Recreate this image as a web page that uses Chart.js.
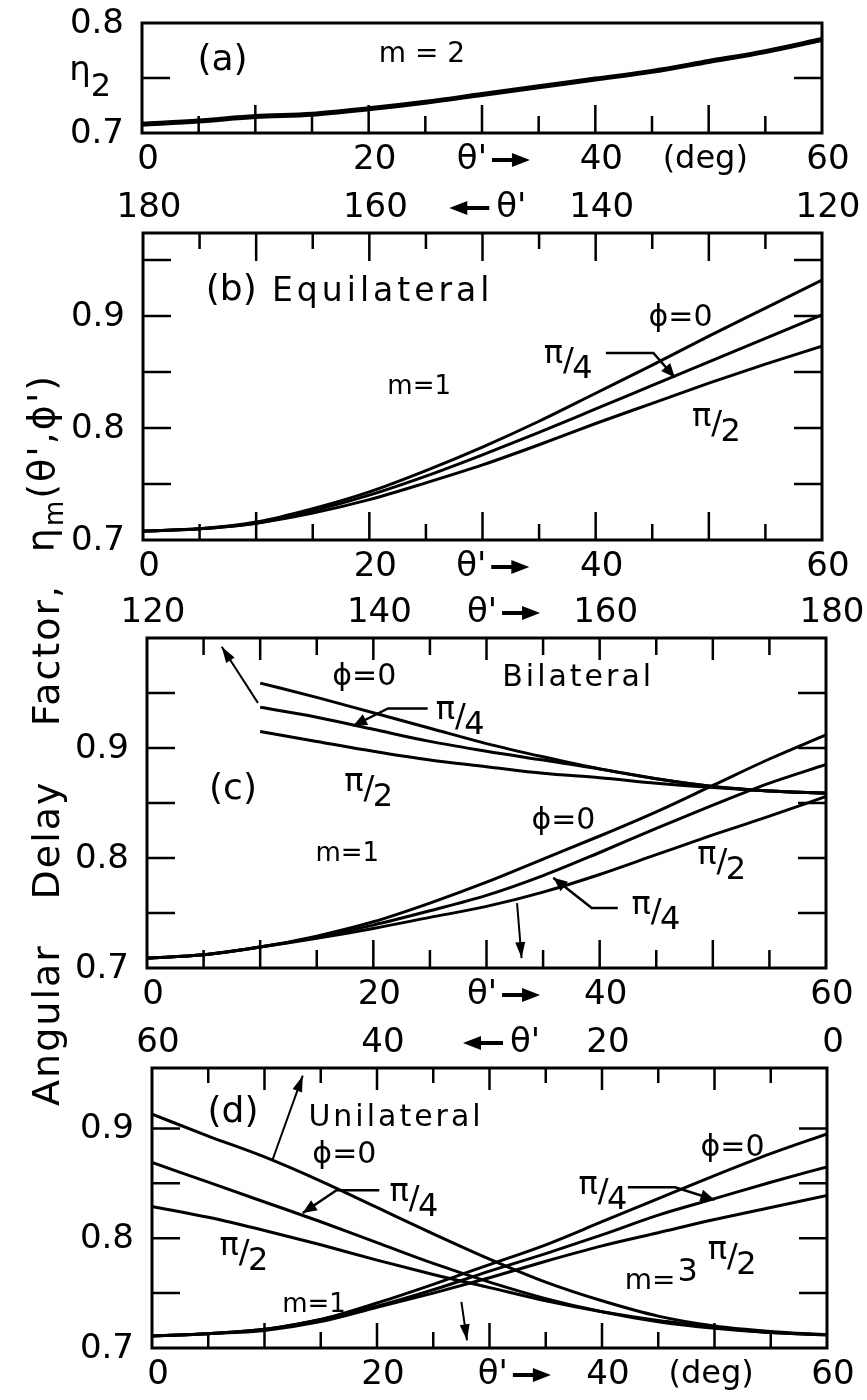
<!DOCTYPE html>
<html>
<head>
<meta charset="utf-8">
<script src="https://cdn.jsdelivr.net/npm/chart.js@4"></script>
<style>
  body { margin: 0; background: #fff; }
  #wrap { position: relative; width: 867px; height: 1400px; }
  canvas { position: absolute; left: 0; top: 0; }
  .ylab {
    position: absolute;
    font-family: "DejaVu Sans", sans-serif;
    font-size: 38px;
    letter-spacing: 2px;
    white-space: nowrap;
    transform: translate(-50%, -50%) rotate(-90deg);
  }
  .ylab sub { font-size: 26px; }
</style>
</head>
<body>
<div id="wrap">
  <canvas id="pa" width="867" height="1400"></canvas>
  <canvas id="pb" width="867" height="1400"></canvas>
  <canvas id="pc" width="867" height="1400"></canvas>
  <canvas id="pd" width="867" height="1400"></canvas>
  <div class="ylab" style="left:46px; top:1025px;">Angular</div>
  <div class="ylab" style="left:46px; top:840px;">Delay</div>
  <div class="ylab" style="left:46px; top:655px;">Factor,</div>
  <div class="ylab" style="left:44px; top:463px;">η<sub>m</sub>(θ',ϕ')</div>
</div>
<script>
// theta' in degrees
const theta = [0, 5, 10, 15, 20, 25, 30, 35, 40, 45, 50, 55, 60];
const thetaUpper = [10, 15, 20, 25, 30, 35, 40, 45, 50, 55, 60];

// (a) m = 2
const etaA = [0.708, 0.711, 0.715, 0.717, 0.722, 0.728, 0.735, 0.742, 0.749, 0.756, 0.765, 0.774, 0.785];

// (b) equilateral, m = 1
const phi0B = [0.708, 0.710, 0.716, 0.728, 0.743, 0.762, 0.783, 0.806, 0.831, 0.856, 0.882, 0.907, 0.932];
const pi4B  = [0.708, 0.710, 0.715, 0.726, 0.740, 0.757, 0.776, 0.796, 0.817, 0.838, 0.859, 0.880, 0.901];
const pi2B  = [0.708, 0.710, 0.715, 0.724, 0.736, 0.751, 0.767, 0.785, 0.804, 0.822, 0.840, 0.857, 0.873];

// (c) bilateral, m = 1 : lower family on bottom axis, upper family on top axis
const phi0C = [0.709, 0.712, 0.719, 0.729, 0.742, 0.759, 0.778, 0.799, 0.820, 0.842, 0.866, 0.890, 0.912];
const pi4C  = [0.709, 0.712, 0.719, 0.728, 0.739, 0.752, 0.766, 0.784, 0.805, 0.827, 0.848, 0.868, 0.885];
const pi2C  = [0.709, 0.712, 0.719, 0.727, 0.736, 0.746, 0.756, 0.769, 0.785, 0.803, 0.821, 0.838, 0.856];
const phi0CU = [0.959, 0.946, 0.932, 0.918, 0.904, 0.892, 0.881, 0.872, 0.865, 0.861, 0.859];
const pi4CU  = [0.937, 0.928, 0.917, 0.906, 0.897, 0.889, 0.881, 0.872, 0.865, 0.861, 0.859];
const pi2CU  = [0.915, 0.906, 0.897, 0.889, 0.883, 0.877, 0.873, 0.868, 0.864, 0.861, 0.859];

// (d) unilateral : falling curves (m = 3, top axis), rising curves (m = 1)
const fall0D = [0.913, 0.893, 0.874, 0.852, 0.828, 0.804, 0.781, 0.760, 0.743, 0.729, 0.720, 0.715, 0.712];
const fall4D = [0.869, 0.851, 0.833, 0.815, 0.796, 0.777, 0.760, 0.745, 0.733, 0.724, 0.718, 0.714, 0.712];
const fall2D = [0.829, 0.819, 0.807, 0.794, 0.780, 0.767, 0.755, 0.743, 0.733, 0.725, 0.719, 0.714, 0.712];
const rise0D = [0.711, 0.713, 0.717, 0.726, 0.741, 0.758, 0.776, 0.794, 0.815, 0.836, 0.857, 0.877, 0.895];
const rise4D = [0.711, 0.713, 0.717, 0.726, 0.738, 0.753, 0.770, 0.786, 0.803, 0.821, 0.836, 0.851, 0.865];
const rise2D = [0.711, 0.713, 0.716, 0.724, 0.737, 0.750, 0.764, 0.779, 0.793, 0.805, 0.817, 0.828, 0.839];

// tick labels
const xTickVals = [0, 20, 40, 60];
const bottomText = ['0', '20', '40', '60'];
const topTextB = ['180', '160', '140', '120'];
const topTextC = ['120', '140', '160', '180'];
const topTextD = ['60', '40', '20', '0'];
const yValsA = [0.7, 0.8];
const yVals = [0.7, 0.8, 0.9];

const FONT = '"DejaVu Sans", "Liberation Sans", sans-serif';

function pts(xs, ys) {
  return xs.map((x, i) => ({ x: x, y: ys[i] }));
}

function head(ctx, x1, y1, x2, y2, len, wid) {
  const a = Math.atan2(y2 - y1, x2 - x1);
  const c = Math.cos(a), s = Math.sin(a);
  ctx.beginPath();
  ctx.moveTo(x2, y2);
  ctx.lineTo(x2 - len * c + wid * s, y2 - len * s - wid * c);
  ctx.lineTo(x2 - len * c - wid * s, y2 - len * s + wid * c);
  ctx.closePath();
  ctx.fill();
}

// θ' with a heavy arrow, dir 1 = "θ' →", dir -1 = "← θ'"
function thetaArrow(ctx, cx, cy, dir) {
  ctx.font = '34px ' + FONT;
  ctx.textAlign = 'center';
  ctx.lineWidth = 4;
  if (dir > 0) {
    ctx.fillText("θ'", cx - 18, cy);
    ctx.beginPath(); ctx.moveTo(cx + 2, cy); ctx.lineTo(cx + 26, cy); ctx.stroke();
    head(ctx, cx, cy, cx + 40, cy, 18, 7);
  } else {
    ctx.fillText("θ'", cx + 22, cy);
    ctx.beginPath(); ctx.moveTo(cx, cy); ctx.lineTo(cx - 24, cy); ctx.stroke();
    head(ctx, cx, cy, cx - 40, cy, 18, 7);
  }
}

function drawNotes(chart, notes) {
  const ctx = chart.ctx, sx = chart.scales.x, sy = chart.scales.y;
  notes.forEach(n => {
    if (n.t === 'arrow') {
      const p = n.pts.map(q => [sx.getPixelForValue(q[0]), sy.getPixelForValue(q[1])]);
      ctx.lineWidth = n.w || 2.5;
      ctx.beginPath();
      ctx.moveTo(p[0][0], p[0][1]);
      for (let i = 1; i < p.length; i++) ctx.lineTo(p[i][0], p[i][1]);
      ctx.stroke();
      const k = p.length - 1;
      head(ctx, p[k - 1][0], p[k - 1][1], p[k][0], p[k][1], n.hl || 16, n.hw || 5);
      return;
    }
    const X = sx.getPixelForValue(n.x), Y = sy.getPixelForValue(n.y);
    ctx.textBaseline = 'middle';
    if (n.t === 'text') {
      ctx.font = (n.size || 30) + 'px ' + FONT;
      ctx.letterSpacing = (n.sp || 0) + 'px';
      ctx.textAlign = n.align || 'center';
      ctx.fillText(n.s, X, Y);
      ctx.letterSpacing = '0px';
    } else if (n.t === 'pi') {
      ctx.font = '32px ' + FONT;
      ctx.textAlign = 'center';
      ctx.fillText('π', X - 15, Y - 7);
      ctx.fillText('/', X, Y);
      ctx.fillText(n.d, X + 14, Y + 8);
    } else if (n.t === 'msup') {
      ctx.font = '28px ' + FONT;
      ctx.textAlign = 'right';
      ctx.fillText('m=', X + 6, Y);
      ctx.textAlign = 'left';
      ctx.font = '32px ' + FONT;
      ctx.fillText(n.s, X + 8, Y - 9);
    }
  });
}

const framePlugin = {
  id: 'frame',
  afterDraw(chart) {
    const o = chart.config.options.frame;
    const ctx = chart.ctx, a = chart.chartArea, sx = chart.scales.x, sy = chart.scales.y;
    ctx.save();
    ctx.strokeStyle = '#000';
    ctx.fillStyle = '#000';
    ctx.lineWidth = 3;
    ctx.strokeRect(a.left, a.top, a.right - a.left, a.bottom - a.top);

    // inward ticks
    ctx.lineWidth = 2.5;
    ctx.beginPath();
    for (let v = 5; v < 60; v += 5) {
      const xp = sx.getPixelForValue(v);
      const major = v % 10 === 0;
      ctx.moveTo(xp, a.bottom);
      ctx.lineTo(xp, a.bottom - (major ? o.bMajor : o.bMinor));
      if (o.topText) {
        ctx.moveTo(xp, a.top);
        ctx.lineTo(xp, a.top + (major ? o.tMajor : o.tMinor));
      }
    }
    o.yTicks.forEach(v => {
      const yp = sy.getPixelForValue(v);
      ctx.moveTo(a.left, yp); ctx.lineTo(a.left + 28, yp);
      ctx.moveTo(a.right, yp); ctx.lineTo(a.right - 28, yp);
    });
    ctx.stroke();

    // tick labels
    ctx.font = '34px ' + FONT;
    ctx.textAlign = 'center';
    ctx.textBaseline = 'middle';
    xTickVals.forEach((v, i) => {
      ctx.fillText(bottomText[i], sx.getPixelForValue(v) + 6, a.bottom + 27);
      if (o.topText) ctx.fillText(o.topText[i], sx.getPixelForValue(v) + 6, a.top - 25);
    });
    ctx.textAlign = 'right';
    o.yLabels.forEach(v => {
      ctx.fillText(v.toFixed(1), a.left - 18, sy.getPixelForValue(v) + 1);
    });

    thetaArrow(ctx, sx.getPixelForValue(o.bArrow), a.bottom + 27, 1);
    if (o.tArrow) thetaArrow(ctx, sx.getPixelForValue(o.tArrow[0]), a.top - 25, o.tArrow[1]);
    if (o.deg) {
      ctx.font = '32px ' + FONT;
      ctx.textAlign = 'center';
      ctx.fillText('(deg)', sx.getPixelForValue(o.deg), a.bottom + 27);
    }
    if (o.eta) {
      ctx.font = '34px ' + FONT;
      ctx.textAlign = 'center';
      ctx.fillText('η', a.left - 62, sy.getPixelForValue(0.756));
      ctx.font = '32px ' + FONT;
      ctx.fillText('2', a.left - 41, sy.getPixelForValue(0.741));
    }
    drawNotes(chart, o.notes);
    ctx.restore();
  }
};

function line(data, w) {
  return {
    data: data,
    borderColor: '#000',
    borderWidth: w || 3,
    pointRadius: 0,
    fill: false,
    cubicInterpolationMode: 'monotone'
  };
}

function makePanel(id, area, yMax, datasets, frame) {
  new Chart(document.getElementById(id), {
    type: 'line',
    data: { datasets: datasets },
    options: {
      responsive: false,
      animation: false,
      devicePixelRatio: 1,
      layout: { padding: { left: area[0], top: area[1], right: 867 - area[2], bottom: 1400 - area[3] } },
      scales: {
        x: { type: 'linear', min: 0, max: 60, display: false },
        y: { type: 'linear', min: 0.7, max: yMax, display: false }
      },
      plugins: { legend: { display: false }, tooltip: { enabled: false } },
      frame: frame
    },
    plugins: [framePlugin]
  });
}

makePanel('pa', [142, 23, 822, 133], 0.8,
  [line(pts(theta, etaA), 5)],
  {
    yTicks: [0.75], yLabels: yValsA, bMajor: 28, bMinor: 17,
    bArrow: 30.7, deg: 49.7, eta: true,
    notes: [
      { t: 'text', x: 7.1, y: 0.766, s: '(a)', size: 36 },
      { t: 'text', x: 24.7, y: 0.771, s: 'm = 2', size: 28 }
    ]
  });

makePanel('pb', [143, 233, 822, 540], 0.974,
  [line(pts(theta, phi0B)), line(pts(theta, pi4B)), line(pts(theta, pi2B))],
  {
    yTicks: [0.75, 0.8, 0.85, 0.9, 0.95], yLabels: yVals,
    bMajor: 28, bMinor: 16, tMajor: 28, tMinor: 16,
    topText: topTextB, bArrow: 30.6, tArrow: [30.6, -1],
    notes: [
      { t: 'text', x: 7.8, y: 0.923, s: '(b)', size: 36 },
      { t: 'text', x: 11.4, y: 0.921, s: 'Equilateral', size: 33, sp: 4, align: 'left' },
      { t: 'text', x: 47.5, y: 0.898, s: 'ϕ=0', size: 30 },
      { t: 'pi', x: 37.6, y: 0.859, d: '4' },
      { t: 'arrow', pts: [[40.9, 0.867], [45.1, 0.867], [47.0, 0.845]], hl: 14, hw: 6 },
      { t: 'text', x: 24.4, y: 0.836, s: 'm=1', size: 26 },
      { t: 'pi', x: 50.7, y: 0.803, d: '2' }
    ]
  });

makePanel('pc', [147, 638, 826, 968], 1.0,
  [line(pts(theta, phi0C)), line(pts(theta, pi4C)), line(pts(theta, pi2C)),
   line(pts(thetaUpper, phi0CU)), line(pts(thetaUpper, pi4CU)), line(pts(thetaUpper, pi2CU))],
  {
    yTicks: [0.75, 0.8, 0.85, 0.9, 0.95], yLabels: yVals,
    bMajor: 28, bMinor: 18, tMajor: 22, tMinor: 17,
    topText: topTextC, bArrow: 31.2, tArrow: [31.2, 1],
    notes: [
      { t: 'text', x: 19.2, y: 0.964, s: 'ϕ=0', size: 30 },
      { t: 'text', x: 38.1, y: 0.963, s: 'Bilateral', size: 30, sp: 3 },
      { t: 'pi', x: 27.7, y: 0.928, d: '4' },
      { t: 'arrow', pts: [[24.8, 0.936], [21.3, 0.936], [18.2, 0.920]], hl: 14, hw: 6 },
      { t: 'pi', x: 19.6, y: 0.862, d: '2' },
      { t: 'text', x: 7.6, y: 0.862, s: '(c)', size: 36 },
      { t: 'text', x: 36.8, y: 0.833, s: 'ϕ=0', size: 30 },
      { t: 'text', x: 17.7, y: 0.803, s: 'm=1', size: 26 },
      { t: 'pi', x: 50.8, y: 0.796, d: '2' },
      { t: 'pi', x: 45.0, y: 0.750, d: '4' },
      { t: 'arrow', pts: [[41.6, 0.7545], [39.3, 0.7545], [35.9, 0.782]], hl: 14, hw: 6 },
      { t: 'arrow', pts: [[9.8, 0.941], [6.6, 0.992]], w: 2 },
      { t: 'arrow', pts: [[32.7, 0.759], [33.1, 0.709]], w: 2 }
    ]
  });

makePanel('pd', [152, 1068, 827, 1348], 0.955,
  [line(pts(theta, fall0D)), line(pts(theta, fall4D)), line(pts(theta, fall2D)),
   line(pts(theta, rise0D)), line(pts(theta, rise4D)), line(pts(theta, rise2D))],
  {
    yTicks: [0.75, 0.8, 0.85, 0.9], yLabels: yVals,
    bMajor: 25, bMinor: 16, tMajor: 22, tMinor: 15,
    topText: topTextD, bArrow: 31.9, tArrow: [31.2, -1], deg: 49.7,
    notes: [
      { t: 'text', x: 7.2, y: 0.914, s: '(d)', size: 36 },
      { t: 'text', x: 13.9, y: 0.909, s: 'Unilateral', size: 30, sp: 3, align: 'left' },
      { t: 'text', x: 17.1, y: 0.876, s: 'ϕ=0', size: 30 },
      { t: 'pi', x: 23.3, y: 0.835, d: '4' },
      { t: 'arrow', pts: [[20.2, 0.8436], [16.4, 0.8436], [13.4, 0.823]], hl: 14, hw: 6 },
      { t: 'pi', x: 8.2, y: 0.786, d: '2' },
      { t: 'text', x: 14.4, y: 0.739, s: 'm=1', size: 26 },
      { t: 'text', x: 51.6, y: 0.882, s: 'ϕ=0', size: 30 },
      { t: 'pi', x: 40.1, y: 0.841, d: '4' },
      { t: 'arrow', pts: [[42.3, 0.8464], [46.5, 0.8464], [50.0, 0.835]], hl: 14, hw: 6 },
      { t: 'pi', x: 51.6, y: 0.782, d: '2' },
      { t: 'msup', x: 46.0, y: 0.760, s: '3' },
      { t: 'arrow', pts: [[10.7, 0.871], [13.4, 0.948]], w: 2 },
      { t: 'arrow', pts: [[27.5, 0.742], [28.0, 0.707]], w: 2 }
    ]
  });
</script>
</body>
</html>
